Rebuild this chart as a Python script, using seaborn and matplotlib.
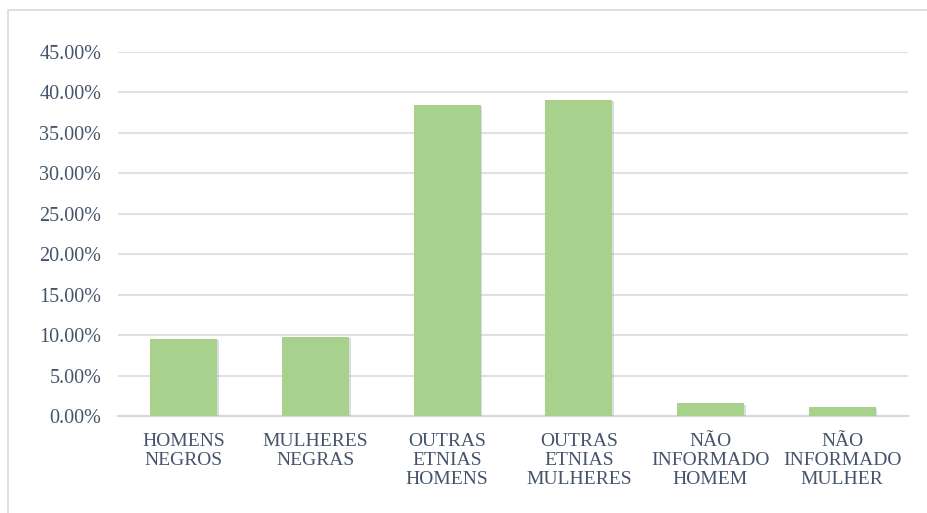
import matplotlib
matplotlib.use("Agg")
import matplotlib.pyplot as plt
import matplotlib.patheffects as pe
from matplotlib.patches import Rectangle
import seaborn as sns
import pandas as pd

categories = ["HOMENS\nNEGROS", "MULHERES\nNEGRAS", "OUTRAS\nETNIAS\nHOMENS",
              "OUTRAS\nETNIAS\nMULHERES", "NÃO\nINFORMADO\nHOMEM", "NÃO\nINFORMADO\nMULHER"]
values = [9.55, 9.80, 38.45, 39.10, 1.58, 1.10]
yticks = [0, 5, 10, 15, 20, 25, 30, 35, 40, 45]

sns.set_theme(style="white")
plt.rcParams['font.family'] = ['Liberation Serif', 'DejaVu Serif']

text_color = "#44546A"
grid_color = "#DDE1E8"

df = pd.DataFrame({"cat": categories, "val": values})

fig = plt.figure(figsize=(9.28, 5.13), dpi=100)
ax = fig.add_axes([118/928, 1-416/513, (908-118)/928, (416-52)/513])

sns.barplot(data=df, x="cat", y="val", color="#A9D18E", saturation=1, width=0.51,
            linewidth=0, edgecolor="none", ax=ax, zorder=3)
for p in ax.patches:
    p.set_path_effects([pe.SimplePatchShadow(offset=(1.2, -1.2), shadow_rgbFace="#9aa0a8", alpha=0.35), pe.Normal()])

ax.set_ylim(0, 45)
ax.set_yticks(yticks)
ax.set_yticklabels([f"{v:.2f}%" for v in yticks])
ax.yaxis.grid(True, color=grid_color, linewidth=1.5, zorder=0)
ax.set_axisbelow(True)
for s in ["top", "right", "left"]:
    ax.spines[s].set_visible(False)
ax.spines["bottom"].set_color("#D5DAE2")
ax.spines["bottom"].set_linewidth(1.5)
ax.set_xlabel("")
ax.set_ylabel("")
ax.tick_params(axis="y", length=0, pad=12, labelsize=14.5, labelcolor=text_color)
ax.tick_params(axis="x", length=0, pad=12, labelsize=14, labelcolor=text_color)
for lbl in ax.get_xticklabels():
    lbl.set_linespacing(1.18)
    lbl.set_ha("center")

fig.patches.append(Rectangle((8/928, -0.01), 1.0, 1 - 10/513 + 0.01, transform=fig.transFigure,
                             fill=False, edgecolor="#D9D9D9", linewidth=1.2))

fig.savefig("out.png", dpi=100)
